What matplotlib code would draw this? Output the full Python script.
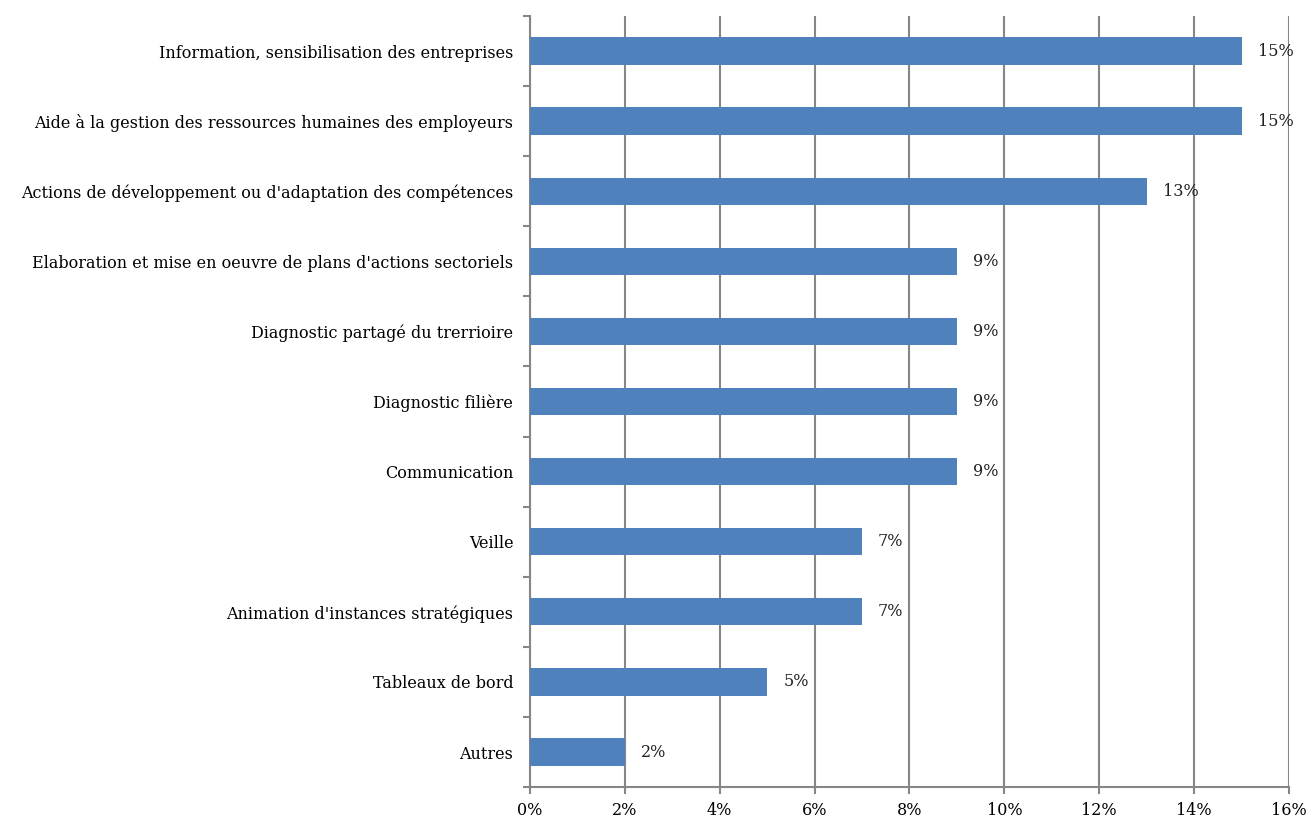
import matplotlib
matplotlib.use("Agg")
import matplotlib.pyplot as plt
from matplotlib.ticker import FuncFormatter, FixedLocator

categories = [
    "Information, sensibilisation des entreprises",
    "Aide à la gestion des ressources humaines des employeurs",
    "Actions de développement ou d'adaptation des compétences",
    "Elaboration et mise en oeuvre de plans d'actions sectoriels",
    "Diagnostic partagé du trerrioire",
    "Diagnostic filière",
    "Communication",
    "Veille",
    "Animation d'instances stratégiques",
    "Tableaux de bord",
    "Autres",
]
values = [15, 15, 13, 9, 9, 9, 9, 7, 7, 5, 2]

plt.rcParams['font.family'] = ['DejaVu Serif']

fig = plt.figure(figsize=(13.06, 8.19), dpi=100)
ax = fig.add_axes([0.4058, 0.039, 0.987 - 0.4058, 0.9805 - 0.039])

n = len(categories)
ypos = list(range(n))[::-1]
ax.barh(ypos, values, height=0.39, color='#4F81BD', zorder=3)

# percentage next to each bar
for y, v in zip(ypos, values):
    ax.annotate(f"{v}%", xy=(v, y), xytext=(11.5, 0), textcoords='offset points',
                va='center', ha='left', fontsize=11.5, color='#222222', zorder=4)

ax.set_xlim(0, 16)
ax.set_ylim(-0.5, n - 0.5)
ax.set_xticks(range(0, 17, 2))
ax.xaxis.set_major_formatter(FuncFormatter(lambda x, p: f"{int(x)}%"))
ax.set_yticks(ypos)
ax.set_yticklabels(categories, fontsize=11.5)
ax.yaxis.set_minor_locator(FixedLocator([i - 0.5 for i in range(n + 1)]))

ax.grid(axis='x', color='#868686', linewidth=1.5, zorder=0)
for s in ['top', 'right']:
    ax.spines[s].set_visible(False)
for s in ['left', 'bottom']:
    ax.spines[s].set_color('#868686')
    ax.spines[s].set_linewidth(1.5)

ax.tick_params(axis='y', which='major', length=0, pad=12)
ax.tick_params(axis='y', which='minor', length=5, width=1.5, color='#868686')
ax.tick_params(axis='x', length=5, width=1.5, color='#868686', labelsize=11.5, pad=6)

fig.savefig("out.png", dpi=100)
